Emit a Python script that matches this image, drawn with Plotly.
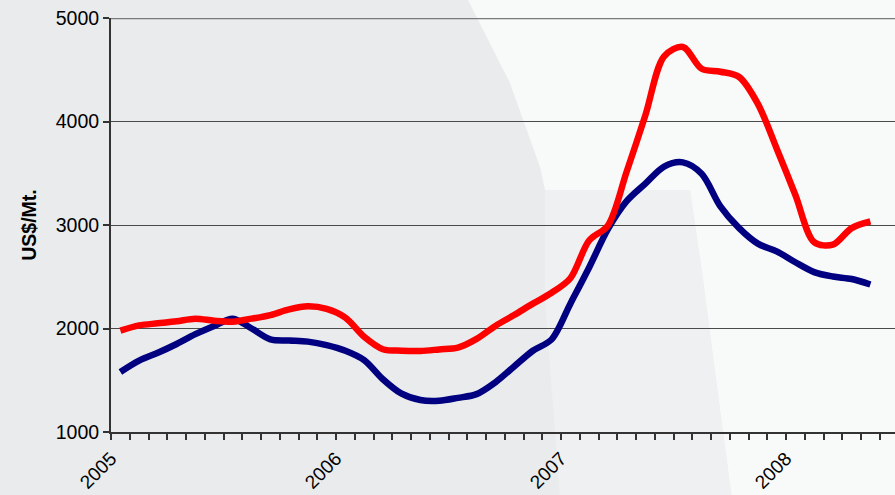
import plotly.graph_objects as go

# Monthly prices, January 2005 through May 2008 (US$/Mt)
months = list(range(41))
red_prices = [1980, 2030, 2050, 2070, 2095, 2075, 2066, 2095, 2130, 2185,
              2215, 2190, 2105, 1920, 1800, 1786, 1783, 1798, 1815, 1900,
              2025, 2130, 2240, 2345, 2485, 2850, 2995, 3515, 4060, 4630,
              4720, 4510, 4481, 4430, 4170, 3740, 3290, 2835, 2810, 2970,
              3035]
blue_prices = [1580, 1690, 1765, 1850, 1945, 2025, 2095, 2000, 1895, 1884,
               1873, 1840, 1785, 1695, 1510, 1370, 1309, 1302, 1330, 1366,
               1480, 1633, 1785, 1895, 2240, 2590, 2960, 3230, 3400, 3565,
               3605, 3495, 3180, 2970, 2820, 2745, 2640, 2545, 2502, 2478,
               2425]
year_labels = ["2005", "2006", "2007", "2008"]
year_starts = [-0.5, 11.5, 23.5, 35.5]

W, H = 895, 495
L, R, T, B = 111, 0, 18, 63
pw, ph = W - L - R, H - T - B


def px(x):
    return (x - L) / pw


def py(y):
    return (H - B - y) / ph


def path(points):
    return "M " + " L ".join(f"{px(x):.4f},{py(y):.4f}" for x, y in points) + " Z"


fig = go.Figure()
fig.add_trace(go.Scatter(x=months, y=blue_prices, mode="lines",
                         line=dict(color="#000080", width=6.5, shape="spline", smoothing=0.9),
                         showlegend=False, hoverinfo="skip"))
fig.add_trace(go.Scatter(x=months, y=red_prices, mode="lines",
                         line=dict(color="#ff0000", width=6.5, shape="spline", smoothing=0.9),
                         showlegend=False, hoverinfo="skip"))

shapes = [
    # lighter backdrop region on the right
    dict(type="path", xref="paper", yref="paper", layer="below", line_width=0,
         fillcolor="#f8f9f9",
         path=path([(468, 0), (900, 0), (900, 500), (732, 500), (716, 380),
                    (703, 280), (690, 190), (545, 190), (540, 167), (510, 83)])),
    # faintly textured block
    dict(type="path", xref="paper", yref="paper", layer="below", line_width=0,
         fillcolor="#eef0f1",
         path=path([(545, 190), (690, 190), (703, 280), (716, 380), (732, 500),
                    (560, 500), (545, 300)])),
    # top border line at 5000
    dict(type="line", xref="paper", yref="y", x0=0, x1=1, y0=5000, y1=5000,
         line=dict(color="#7a7a7a", width=2.5), layer="below"),
]

fig.update_layout(
    width=W, height=H,
    margin=dict(l=L, r=R, t=T, b=B, pad=0, autoexpand=False),
    paper_bgcolor="#e9ebec",
    plot_bgcolor="rgba(0,0,0,0)",
    font=dict(family="Liberation Sans, Arial, sans-serif", size=19.5, color="#000"),
    shapes=shapes,
    xaxis=dict(
        range=[-0.5, -0.5 + pw / 18.75],
        tickmode="array", tickvals=year_starts, ticktext=year_labels,
        tickangle=-45, ticks="outside", ticklen=6, tickwidth=1.5, tickcolor="#333",
        minor=dict(tickmode="linear", tick0=-0.5, dtick=1, ticks="outside",
                   ticklen=6, tickwidth=1.5, tickcolor="#333"),
        showline=True, linecolor="#333", linewidth=2,
        showgrid=False, zeroline=False, automargin=False,
        tickfont=dict(size=19),
    ),
    yaxis=dict(
        range=[1000, 5000], dtick=1000, tickformat="d",
        ticks="outside", ticklen=6, tickwidth=1.5, tickcolor="#333",
        showline=True, linecolor="#333", linewidth=2,
        showgrid=True, gridcolor="#4a4a4a", gridwidth=1.2,
        zeroline=False, automargin=False,
        tickfont=dict(size=19.5),
        title=dict(text="<b>US$/Mt.</b>", font=dict(size=19.5), standoff=14),
    ),
)

fig.write_html("out.html")
